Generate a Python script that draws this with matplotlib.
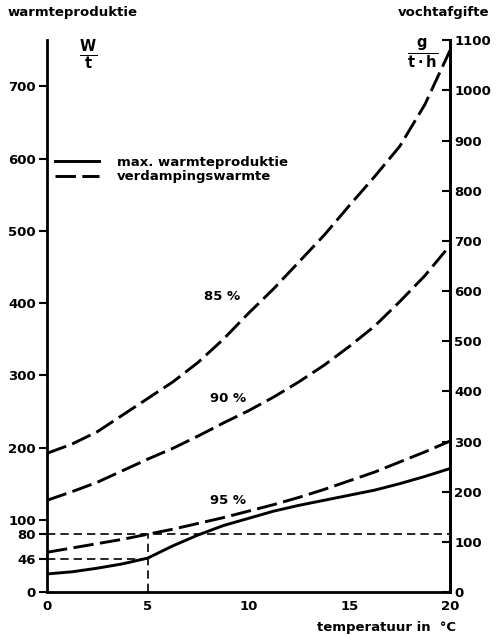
#!/usr/bin/env python3
import matplotlib
matplotlib.use('Agg')
import matplotlib.pyplot as plt
from matplotlib.lines import Line2D

# temperatuur in °C
temperatuur = [0, 1.25, 2.5, 3.75, 5, 6.25, 7.5, 8.75, 10,
               11.25, 12.5, 13.75, 15, 16.25, 17.5, 18.75, 20]

# verdampingswarmte (W/t) bij 85, 90, 95 % rel. vochtigheid
verdamping_85 = [192, 205, 222, 245, 268, 291, 318, 350, 386,
                 420, 457, 494, 535, 575, 617, 675, 750]
verdamping_90 = [127, 139, 152, 168, 184, 199, 216, 234, 251,
                 270, 291, 314, 340, 368, 402, 438, 480]
verdamping_95 = [55, 61, 67, 73, 80, 87, 95, 103, 112,
                 121, 131, 142, 154, 166, 180, 194, 209]

# max. warmteproduktie (W/t)
warmteproduktie = [25, 28, 33, 39, 47, 64, 79, 92, 102,
                   112, 120, 127, 134, 141, 150, 160, 171]

curve_labels = ['85 %', '90 %', '95 %']
label_pos = [(8.7, 409), (9.0, 268), (9.0, 127)]

left_ticks = [0, 46, 80, 100, 200, 300, 400, 500, 600, 700]
right_ticks = list(range(0, 1200, 100))
x_ticks = [0, 5, 10, 15, 20]

# aflezing bij 5 °C
t_ref = 5
w_ref = 46
v_ref = 80

plt.rcParams['font.family'] = ['DejaVu Sans']
plt.rcParams['font.weight'] = 'bold'
fs = 9.5

fig = plt.figure(figsize=(4.97, 6.35), dpi=100)
ax = fig.add_axes([0.0946, 0.0677, 0.811, 0.869])

dash_long = (7, 2.2)
lw = 2.1

ax.plot(temperatuur, verdamping_85, color='black', lw=lw, dashes=dash_long)
ax.plot(temperatuur, verdamping_90, color='black', lw=lw, dashes=dash_long)
ax.plot(temperatuur, verdamping_95, color='black', lw=lw, dashes=dash_long)
ax.plot(temperatuur, warmteproduktie, color='black', lw=lw)

# hulplijnen
ax.plot([0, 20], [v_ref, v_ref], color='black', lw=1.2, dashes=(5, 3))
ax.plot([0, t_ref], [w_ref, w_ref], color='black', lw=1.2, dashes=(5, 3))
ax.plot([t_ref, t_ref], [0, v_ref], color='black', lw=1.2, dashes=(5, 3))

for lab, (xx, yy) in zip(curve_labels, label_pos):
    ax.text(xx, yy, lab, ha='center', va='center', fontsize=fs)

ax.set_xlim(0, 20)
ax.set_ylim(0, 764)
ax.set_xticks(x_ticks)
ax.set_yticks(left_ticks)
ax.tick_params(axis='y', direction='out', length=6, width=1.5, labelsize=fs, pad=2)
ax.tick_params(axis='x', length=0, labelsize=fs, pad=6)

ax.spines['top'].set_visible(False)
for s in ['left', 'right', 'bottom']:
    ax.spines[s].set_linewidth(2)

ax2 = ax.twinx()
ax2.set_ylim(0, 1100)
ax2.set_yticks(right_ticks)
ax2.tick_params(axis='y', direction='in', length=6, width=1.5, labelsize=fs, pad=3)
ax2.spines['top'].set_visible(False)
ax2.spines['right'].set_linewidth(2)
ax2.spines['left'].set_visible(False)
ax2.spines['bottom'].set_visible(False)

handles = [Line2D([], [], color='black', lw=lw),
           Line2D([], [], color='black', lw=lw, dashes=dash_long)]
ax.legend(handles, ['max. warmteproduktie', 'verdampingswarmte'],
          loc='upper left', bbox_to_anchor=(0.02, 0.79), frameon=False,
          fontsize=fs, handlelength=3.3, handletextpad=1.4,
          labelspacing=0.1, borderpad=0, borderaxespad=0)

fig.text(0.016, 0.981, 'warmteproduktie', fontsize=fs, ha='left', va='center')
fig.text(0.985, 0.981, 'vochtafgifte', fontsize=fs, ha='right', va='center')
fig.text(0.177, 0.915, r'$\frac{\mathbf{W}}{\mathbf{t}}$', fontsize=15, ha='center', va='center')
fig.text(0.85, 0.915, r'$\frac{\mathbf{g}}{\mathbf{t\cdot h}}$', fontsize=15, ha='center', va='center')
fig.text(0.918, 0.012, 'temperatuur in  °C', fontsize=fs, ha='right', va='center')

fig.savefig('out.png', dpi=100)
